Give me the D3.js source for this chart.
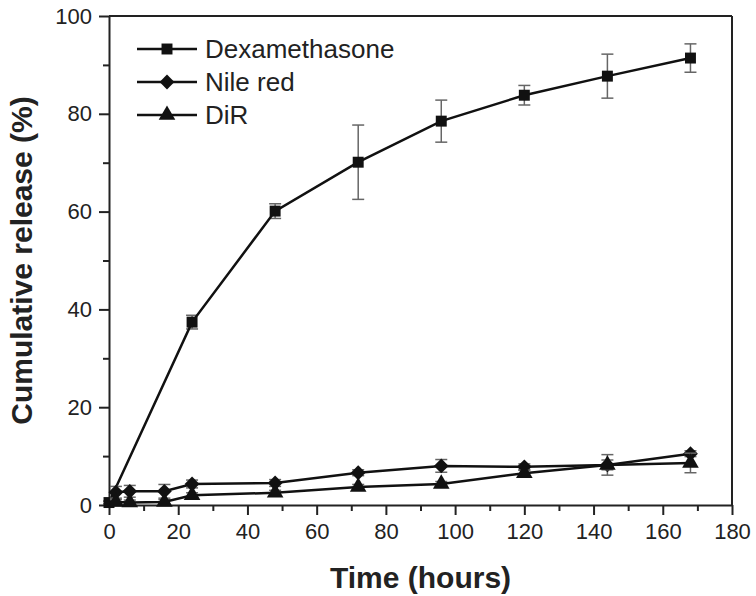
<!DOCTYPE html>
<html lang="en">
<head>
    <meta charset="UTF-8">
    <title>Cumulative release</title>
    <script src="https://d3js.org/d3.v7.min.js"></script>
    <style>
        body { margin: 0; background: #fff; font-family: "Liberation Sans", Arial, sans-serif; }
        .axis path, .axis line { stroke: #222; stroke-width: 2; }
        .axis text { font-size: 22px; fill: #222; font-family: "Liberation Sans", Arial, sans-serif; }
        .title { font-size: 30px; font-weight: bold; fill: #222; }
        .legend text { font-size: 26px; fill: #222; }
    </style>
</head>
<body>
<div id="chart"></div>
<script>
    // data
    const dexTime = [0, 24, 48, 72, 96, 120, 144, 168];
    const dexValue = [0.5, 37.4, 60.1, 70.1, 78.5, 83.8, 87.7, 91.4];
    const dexError = [0.3, 1.4, 1.5, 7.6, 4.3, 2.0, 4.5, 2.9];

    const nileTime = [2, 6, 16, 24, 48, 72, 96, 120, 144, 168];
    const nileValue = [2.6, 2.8, 2.8, 4.3, 4.5, 6.6, 8.0, 7.8, 8.2, 10.5];
    const nileError = [1.2, 1.2, 1.4, 0.8, 0.7, 0.6, 1.3, 0.6, 2.1, 0.6];

    const dirTime = [2, 6, 16, 24, 48, 72, 96, 120, 144, 168];
    const dirValue = [0.6, 0.5, 0.6, 2.0, 2.5, 3.7, 4.3, 6.5, 8.2, 8.6];
    const dirError = [0.5, 0.5, 0.5, 0.5, 0.5, 0.5, 0.5, 0.6, 1.0, 2.0];

    const seriesNames = ["Dexamethasone", "Nile red", "DiR"];
    const xTicks = [0, 20, 40, 60, 80, 100, 120, 140, 160, 180];
    const yTicks = [0, 20, 40, 60, 80, 100];

    // square rotated 45deg looks like the origin diamond
    const series = [
        { name: seriesNames[0], t: dexTime, v: dexValue, e: dexError, symbol: d3.symbolSquare, size: 120, rot: 0 },
        { name: seriesNames[1], t: nileTime, v: nileValue, e: nileError, symbol: d3.symbolSquare, size: 110, rot: 45 },
        { name: seriesNames[2], t: dirTime, v: dirValue, e: dirError, symbol: d3.symbolTriangle, size: 120, rot: 0 }
    ];

    const width = 756, height = 596;
    const margin = { top: 16, right: 24, bottom: 91, left: 109 };
    const w = width - margin.left - margin.right;
    const h = height - margin.top - margin.bottom;

    const svg = d3.select("#chart").append("svg")
        .attr("width", width)
        .attr("height", height);

    const g = svg.append("g")
        .attr("transform", `translate(${margin.left},${margin.top})`);

    const x = d3.scaleLinear().domain([0, 180]).range([0, w]);
    const y = d3.scaleLinear().domain([0, 100]).range([h, 0]);

    // minor ticks
    g.append("g").attr("class", "axis")
        .attr("transform", `translate(0,${h})`)
        .call(d3.axisBottom(x).tickValues(d3.range(10, 180, 20)).tickSize(6).tickFormat(""))
        .select(".domain").remove();
    g.append("g").attr("class", "axis")
        .call(d3.axisLeft(y).tickValues(d3.range(10, 100, 20)).tickSize(6).tickFormat(""))
        .select(".domain").remove();

    // major ticks
    g.append("g").attr("class", "axis")
        .attr("transform", `translate(0,${h})`)
        .call(d3.axisBottom(x).tickValues(xTicks).tickSize(10).tickPadding(8).tickSizeOuter(0));
    g.append("g").attr("class", "axis")
        .call(d3.axisLeft(y).tickValues(yTicks).tickSize(10).tickPadding(7).tickSizeOuter(0));

    // frame top and right
    g.append("line").attr("x1", 0).attr("x2", w).attr("y1", 0).attr("y2", 0)
        .attr("stroke", "#222").attr("stroke-width", 2);
    g.append("line").attr("x1", w).attr("x2", w).attr("y1", 0).attr("y2", h)
        .attr("stroke", "#222").attr("stroke-width", 2);

    const line = d3.line().x(d => x(d[0])).y(d => y(d[1]));

    series.forEach(s => {
        const pts = s.t.map((t, i) => [t, s.v[i], s.e[i]]);

        // error bars
        const eb = g.append("g").attr("stroke", "#666").attr("stroke-width", 1.5).attr("fill", "none");
        pts.forEach(p => {
            const cx = x(p[0]);
            const y1 = y(p[1] + p[2]), y2 = y(p[1] - p[2]);
            eb.append("line").attr("x1", cx).attr("x2", cx).attr("y1", y1).attr("y2", y2);
            eb.append("line").attr("x1", cx - 6).attr("x2", cx + 6).attr("y1", y1).attr("y2", y1);
            eb.append("line").attr("x1", cx - 6).attr("x2", cx + 6).attr("y1", y2).attr("y2", y2);
        });

        g.append("path")
            .datum(pts)
            .attr("fill", "none")
            .attr("stroke", "#111")
            .attr("stroke-width", 2.5)
            .attr("d", line);

        g.selectAll(null)
            .data(pts)
            .enter()
            .append("path")
            .attr("transform", d => `translate(${x(d[0])},${y(d[1])}) rotate(${s.rot})`)
            .attr("d", d3.symbol().type(s.symbol).size(s.size))
            .attr("fill", "#111");
    });

    // legend
    const legend = g.append("g").attr("class", "legend");
    series.forEach((s, i) => {
        const ly = 33 + i * 33;
        legend.append("line").attr("x1", 28).attr("x2", 88).attr("y1", ly).attr("y2", ly)
            .attr("stroke", "#111").attr("stroke-width", 2.5);
        legend.append("path")
            .attr("transform", `translate(58,${ly}) rotate(${s.rot})`)
            .attr("d", d3.symbol().type(s.symbol).size(s.size))
            .attr("fill", "#111");
        legend.append("text").attr("x", 96).attr("y", ly).attr("dy", "0.36em").text(s.name);
    });

    // axis titles
    svg.append("text").attr("class", "title")
        .attr("x", margin.left + w / 2).attr("y", 588)
        .attr("text-anchor", "middle")
        .text("Time (hours)");
    svg.append("text").attr("class", "title")
        .attr("transform", `translate(32,${margin.top + h / 2}) rotate(-90)`)
        .attr("text-anchor", "middle")
        .text("Cumulative release (%)");
</script>
</body>
</html>
